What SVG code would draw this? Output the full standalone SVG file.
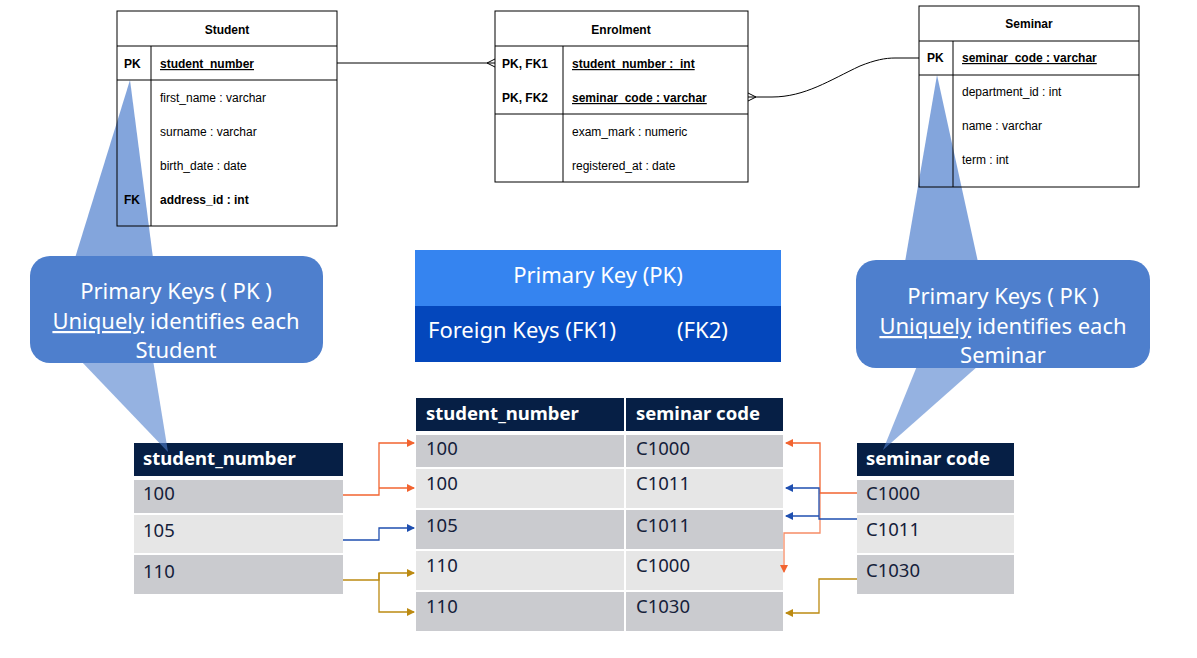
<svg xmlns="http://www.w3.org/2000/svg" width="1197" height="658" viewBox="0 0 1197 658">
<defs>
<style>
.box{fill:none;stroke:#000;stroke-width:1}
.ln{stroke:#000;stroke-width:1;fill:none}
.er{font-family:"Liberation Sans",Arial,sans-serif;font-size:12px;fill:#000;white-space:pre}
.b{font-weight:bold}
.u{text-decoration:underline}
.hd{font-family:"Liberation Sans",Arial,sans-serif;font-size:12px;font-weight:bold;fill:#000;text-anchor:middle}
.call{fill:#4E7FCD}
.tri1{fill:#4E7FCD;fill-opacity:0.7}
.tri2{fill:#4E7FCD;fill-opacity:0.6}
.ct{font-family:"Noto Sans","Open Sans",sans-serif;font-size:22px;fill:#fff;text-anchor:middle}
.lg{font-family:"Noto Sans","Open Sans",sans-serif;font-size:22px;fill:#fff}
.th{fill:#061F45}
.dk{fill:#CACBCF}
.lt{fill:#E6E6E6}
.tht{font-family:"Noto Sans","Open Sans",sans-serif;font-size:18.5px;font-weight:bold;fill:#fff}
.tv{font-family:"Noto Sans","Open Sans",sans-serif;font-size:18.5px;fill:#15203A}
.or{stroke:#F26430;stroke-width:1.3;fill:none}
.bl{stroke:#1F4FB0;stroke-width:1.3;fill:none}
.gd{stroke:#BC8A12;stroke-width:1.3;fill:none}
</style>
<marker id="aO" markerWidth="8" markerHeight="8" refX="7" refY="4" orient="auto" markerUnits="userSpaceOnUse"><path d="M0,0 L8,4 L0,8 Z" fill="#F26430"/></marker>
<marker id="aB" markerWidth="8" markerHeight="8" refX="7" refY="4" orient="auto" markerUnits="userSpaceOnUse"><path d="M0,0 L8,4 L0,8 Z" fill="#1F4FB0"/></marker>
<marker id="aG" markerWidth="8" markerHeight="8" refX="7" refY="4" orient="auto" markerUnits="userSpaceOnUse"><path d="M0,0 L8,4 L0,8 Z" fill="#BC8A12"/></marker>
</defs>
<rect width="1197" height="658" fill="#fff"/>

<!-- Callout pointers towards the ER tables (drawn beneath table lines) -->
<g id="callout-pointers-top">
<polygon class="tri1" points="130,80 75,258 153,258"/>
<polygon class="tri1" points="937,75 905,262 978,262"/>
</g>

<!-- ER entity: Student -->
<g id="student">
<rect class="box" x="117" y="11" width="220" height="215"/>
<line class="ln" x1="117" y1="46" x2="337" y2="46"/>
<line class="ln" x1="117" y1="80" x2="337" y2="80" stroke-width="1.5"/>
<line class="ln" x1="151" y1="46" x2="151" y2="226"/>
<text class="hd" x="227" y="34">Student</text>
<text class="er b" x="124" y="68">PK</text>
<text class="er b u" x="160" y="68">student_number</text>
<text class="er" x="160" y="102">first_name : varchar</text>
<text class="er" x="160" y="136">surname : varchar</text>
<text class="er" x="160" y="170">birth_date : date</text>
<text class="er b" x="124" y="204">FK</text>
<text class="er b" x="160" y="204">address_id : int</text>
</g>

<!-- ER entity: Enrolment -->
<g id="enrolment">
<rect class="box" x="495" y="11" width="253" height="171"/>
<line class="ln" x1="495" y1="46" x2="748" y2="46"/>
<line class="ln" x1="495" y1="114" x2="748" y2="114"/>
<line class="ln" x1="563" y1="46" x2="563" y2="182"/>
<text class="hd" x="621" y="34">Enrolment</text>
<text class="er b" x="502" y="68">PK, FK1</text>
<text class="er b u" x="572" y="68">student_number :  int</text>
<text class="er b" x="502" y="102">PK, FK2</text>
<text class="er b u" x="572" y="102">seminar_code : varchar</text>
<text class="er" x="572" y="136">exam_mark : numeric</text>
<text class="er" x="572" y="170">registered_at : date</text>
</g>

<!-- ER entity: Seminar -->
<g id="seminar">
<rect class="box" x="919" y="6" width="220" height="181"/>
<line class="ln" x1="919" y1="41" x2="1139" y2="41"/>
<line class="ln" x1="919" y1="75" x2="1139" y2="75"/>
<line class="ln" x1="953" y1="41" x2="953" y2="187"/>
<text class="hd" x="1029" y="28">Seminar</text>
<text class="er b" x="927" y="62">PK</text>
<text class="er b u" x="962" y="62">seminar_code : varchar</text>
<text class="er" x="962" y="96">department_id : int</text>
<text class="er" x="962" y="130">name : varchar</text>
<text class="er" x="962" y="164">term : int</text>
</g>

<!-- Data table: student_number -->
<g id="student-table">
<rect class="th" x="134" y="443" width="209" height="33"/>
<rect class="dk" x="134" y="480" width="209" height="33"/>
<rect class="lt" x="134" y="515" width="209" height="38"/>
<rect class="dk" x="134" y="555" width="209" height="39"/>
<text class="tht" x="143" y="465">student_number</text>
<text class="tv" x="143" y="500">100</text>
<text class="tv" x="143" y="537">105</text>
<text class="tv" x="143" y="578">110</text>
</g>

<!-- Data table: enrolment -->
<g id="enrolment-table">
<rect class="th" x="416" y="398" width="208" height="33"/>
<rect class="th" x="626" y="398" width="157" height="33"/>
<rect class="dk" x="416" y="435" width="208" height="32"/>
<rect class="dk" x="626" y="435" width="157" height="32"/>
<rect class="lt" x="416" y="469" width="208" height="39"/>
<rect class="lt" x="626" y="469" width="157" height="39"/>
<rect class="dk" x="416" y="510" width="208" height="39"/>
<rect class="dk" x="626" y="510" width="157" height="39"/>
<rect class="lt" x="416" y="551" width="208" height="39"/>
<rect class="lt" x="626" y="551" width="157" height="39"/>
<rect class="dk" x="416" y="592" width="208" height="39"/>
<rect class="dk" x="626" y="592" width="157" height="39"/>
<text class="tht" x="426" y="420">student_number</text>
<text class="tht" x="636" y="420">seminar code</text>
<text class="tv" x="426" y="455">100</text>
<text class="tv" x="636" y="455">C1000</text>
<text class="tv" x="426" y="490">100</text>
<text class="tv" x="636" y="490">C1011</text>
<text class="tv" x="426" y="532">105</text>
<text class="tv" x="636" y="532">C1011</text>
<text class="tv" x="426" y="572">110</text>
<text class="tv" x="636" y="572">C1000</text>
<text class="tv" x="426" y="613">110</text>
<text class="tv" x="636" y="613">C1030</text>
</g>

<!-- Data table: seminar code -->
<g id="seminar-table">
<rect class="th" x="857" y="443" width="157" height="33"/>
<rect class="dk" x="857" y="480" width="157" height="33"/>
<rect class="lt" x="857" y="515" width="157" height="38"/>
<rect class="dk" x="857" y="555" width="157" height="39"/>
<text class="tht" x="866" y="465">seminar code</text>
<text class="tv" x="866" y="500">C1000</text>
<text class="tv" x="866" y="536">C1011</text>
<text class="tv" x="866" y="577">C1030</text>
</g>

<!-- Legend -->
<g id="legend">
<rect x="415" y="250" width="366" height="56" fill="#3584F0"/>
<rect x="415" y="306" width="366" height="56" fill="#0447BC"/>
<text class="lg" x="598" y="283" text-anchor="middle">Primary Key (PK)</text>
<text class="lg" x="428" y="338">Foreign Keys (FK1)</text>
<text class="lg" x="677" y="338">(FK2)</text>
</g>

<!-- Callout left -->
<g id="callout-student">
<polygon class="tri2" points="80,360 153,360 168,452"/>
<rect class="call" x="30" y="256" width="293" height="107" rx="20" ry="20"/>
<text class="ct" x="176" y="299">Primary Keys ( PK )</text>
<text class="ct" x="176" y="329"><tspan text-decoration="underline">Uniquely</tspan> identifies each</text>
<text class="ct" x="176" y="358">Student</text>
</g>

<!-- Callout right -->
<g id="callout-seminar">
<polygon class="tri2" points="917,366 978,366 883,450"/>
<rect class="call" x="856" y="260" width="294" height="108" rx="20" ry="20"/>
<text class="ct" x="1003" y="304">Primary Keys ( PK )</text>
<text class="ct" x="1003" y="334"><tspan text-decoration="underline">Uniquely</tspan> identifies each</text>
<text class="ct" x="1003" y="363">Seminar</text>
</g>

<!-- Connectors -->
<g id="connectors">
<path class="ln" d="M337,63 H495"/>
<path class="ln" d="M495,59 L487,63 L495,67"/>
<path class="ln" d="M748,97 H772 C805,97 830,80 860,66 C875,60 885,58 895,58 H919"/>
<path class="ln" d="M748,93 L756,97 L748,101"/>

<path class="or" d="M343,495 H379 V443 H414" marker-end="url(#aO)"/>
<path class="or" d="M379,488 H414" marker-end="url(#aO)"/>
<path class="bl" d="M343,540 H379 V528 H414" marker-end="url(#aB)"/>
<path class="gd" d="M343,580 H379 V573 H414" marker-end="url(#aG)"/>
<path class="gd" d="M379,573 V612 H414" marker-end="url(#aG)"/>

<path class="or" d="M857,493 H820 V443 H786" marker-end="url(#aO)"/>
<path class="or" d="M820,493 V533 H784 V572" stroke-opacity="0.75" marker-end="url(#aO)"/>
<path class="bl" d="M857,519 H819 V488 H786" marker-end="url(#aB)"/>
<path class="bl" d="M819,516 H786" marker-end="url(#aB)"/>
<path class="gd" d="M857,579 H819 V613 H786" marker-end="url(#aG)"/>
</g>
</svg>
